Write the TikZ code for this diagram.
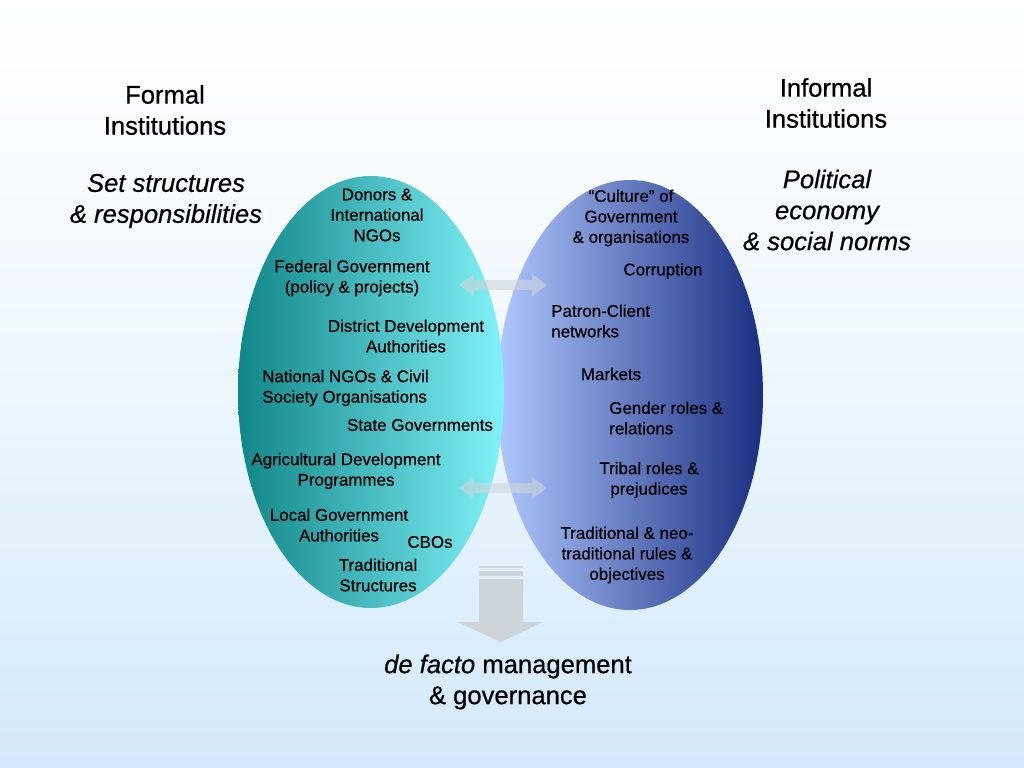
\documentclass[tikz,border=0pt]{standalone}
\usepackage{fontspec}
\setmainfont{Liberation Sans}[UprightFeatures={FakeBold=0.6}, ItalicFeatures={FakeBold=0.6}]
\usetikzlibrary{calc}
\def\px{0.703pt}
\def\dblarrow(#1,#2){\fill[sidearrow] (#1-44,#2) -- ++(15,-11) -- ++(0,6) -- ++(58,0) -- ++(0,-6) -- ++(15,11) -- ++(-15,11) -- ++(0,-6) -- ++(-58,0) -- ++(0,6) -- cycle;}
\definecolor{bgblue}{RGB}{210,233,251}
\definecolor{tealdark}{RGB}{16,134,136}
\definecolor{tealight}{RGB}{128,242,248}
\definecolor{bluelight}{RGB}{176,200,255}
\definecolor{bluedark}{RGB}{26,46,128}
\definecolor{arrowgray}{RGB}{206,213,218}
\tikzset{
	lbl/.style={font=\fontsize{11.9}{14.4}\selectfont, align=center, inner sep=0pt},
	head/.style={font=\fontsize{18}{21.8}\selectfont, align=center, inner sep=0pt},
	sub/.style={head, font=\fontsize{18}{21.8}\selectfont\itshape},
	sidearrow/.style={fill=arrowgray, fill opacity=0.6},
}

\begin{document}
\begin{tikzpicture}[x=\px, y=-\px]
			%%%%% BACKGROUND %%%%%
			\useasboundingbox (0,0) rectangle (1024,768);
			\shade[top color=white, bottom color=bgblue, middle color={white!60!bgblue}] (0,0) rectangle (1024,768);
			
			%%%%% ELLIPSES %%%%%
			\shade[left color=bluelight, right color=bluedark] (630,395) ellipse [x radius=133, y radius=215];
			\shade[left color=tealdark, right color=tealight] (371,392) ellipse [x radius=133, y radius=216];
			
			%%%%% ARROWS %%%%%
			\dblarrow(503,285)
			\dblarrow(503,488)
			
			\fill[arrowgray] (479,566) rectangle (523,568);
			\fill[arrowgray] (479,571) rectangle (523,576);
			\fill[arrowgray] (479,579) -- (523,579) -- (523,622) -- (543,622) -- (501,642) -- (457,622) -- (479,622) -- cycle;
			
			%%%%% HEADINGS %%%%%
			\node[head] (formal) at (165,110) {Formal\\Institutions};
			\node[sub] (formalsub) at (166,201) {Set structures\\\& responsibilities};
			\node[head] (informal) at (826,103) {Informal\\Institutions};
			\node[sub] (informalsub) at (827,210) {Political\\economy\\\& social norms};
			\node[head] (defacto) at (508,682) {\textit{de facto} management\\\& governance};
			
			%%%%% FORMAL %%%%%
			\node[lbl] (donors) at (377,215) {Donors \&\\International\\NGOs};
			\node[lbl] (federal) at (352,278) {Federal Government\\(policy \& projects)};
			\node[lbl] (district) at (406,336) {District Development\\Authorities};
			\node[lbl, align=left, anchor=west] (national) at (262,388) {National NGOs \& Civil\\Society Organisations};
			\node[lbl] (state) at (420,425) {State Governments};
			\node[lbl] (agri) at (346,471) {Agricultural Development\\Programmes};
			\node[lbl] (local) at (339,525) {Local Government\\Authorities};
			\node[lbl] (cbos) at (430,542) {CBOs};
			\node[lbl] (tradstruct) at (378,575) {Traditional\\Structures};
			
			%%%%% INFORMAL %%%%%
			\node[lbl] (culture) at (631,218) {“Culture” of\\Government\\\& organisations};
			\node[lbl] (corruption) at (663,271) {Corruption};
			\node[lbl, align=left, anchor=west] (patron) at (551,321) {Patron-Client\\networks};
			\node[lbl] (markets) at (611,374) {Markets};
			\node[lbl, align=left, anchor=west] (gender) at (609,418) {Gender roles \&\\relations};
			\node[lbl] (tribal) at (649,480) {Tribal roles \&\\prejudices};
			\node[lbl] (tradrules) at (627,555) {Traditional \& neo-\\traditional rules \&\\objectives};
			
			%%%%% END %%%%%
\end{tikzpicture}
\end{document}
